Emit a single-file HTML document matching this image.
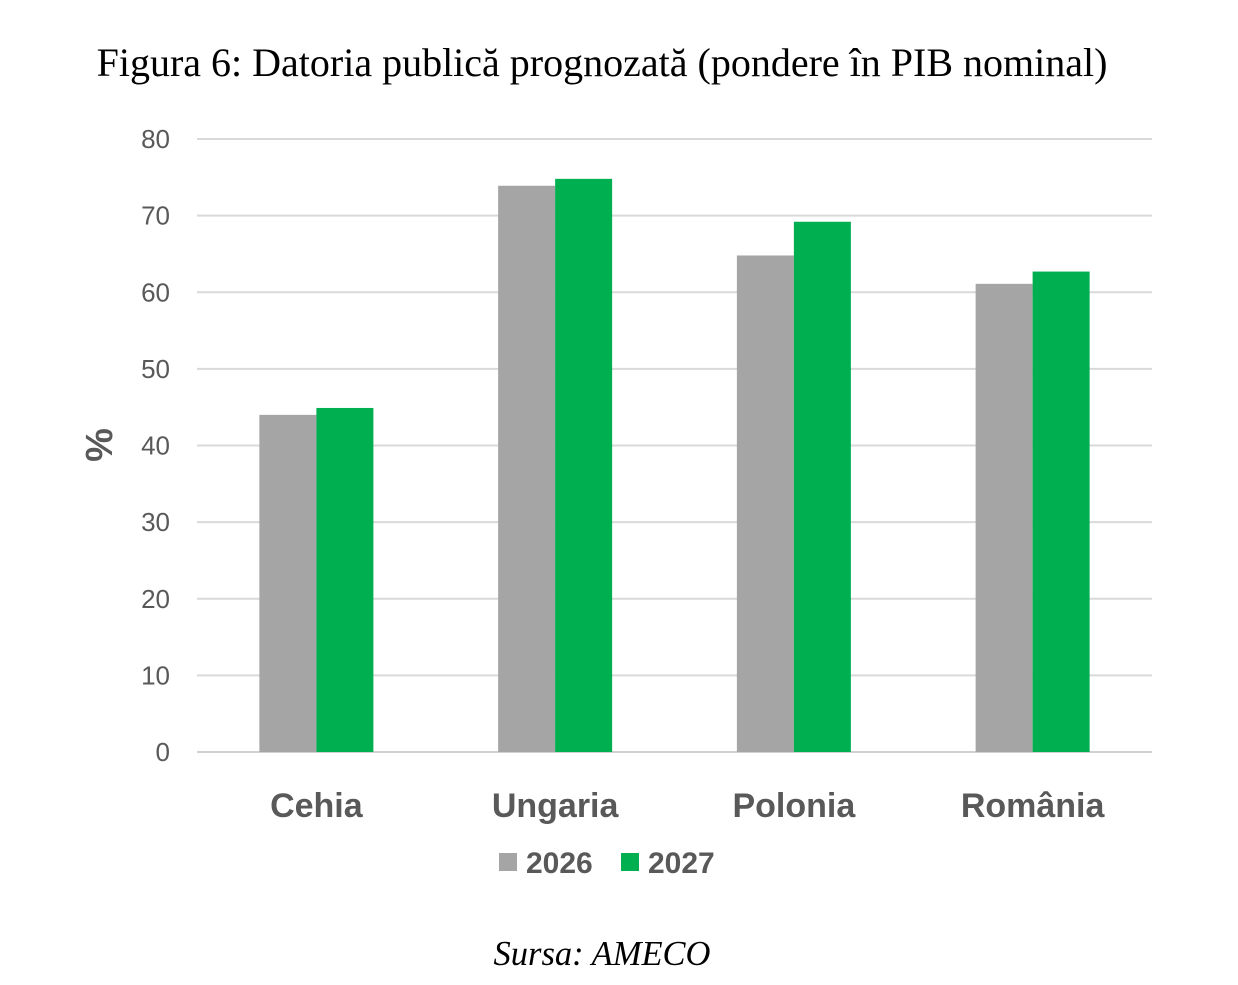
<!DOCTYPE html>
<html><head><meta charset="utf-8"><style>
body{margin:0;background:#fff;width:1238px;height:980px;overflow:hidden}
svg text{font-family:"Liberation Sans",sans-serif}
</style></head><body>
<svg id="chart" width="1238" height="980">
<text x="602" y="76" text-anchor="middle" style="font-family:'Liberation Serif',serif;font-size:40px" fill="#000">Figura 6: Datoria publică prognozată (pondere în PIB nominal)</text>
<text x="602" y="965" text-anchor="middle" style="font-family:'Liberation Serif',serif;font-size:34.5px;font-style:italic" fill="#000">Sursa: AMECO</text>
<text transform="translate(112,445) rotate(-90)" text-anchor="middle" style="font-size:38px;font-weight:bold" fill="#595959">%</text>
<g id="grid"></g><g id="bars"></g><g id="labels"></g>
<g>
<rect x="499" y="853" width="18" height="18" fill="#a5a5a5"/>
<text x="526" y="873" style="font-size:30px;font-weight:bold" fill="#595959">2026</text>
<rect x="621" y="853" width="18" height="18" fill="#00b050"/>
<text x="648" y="873" style="font-size:30px;font-weight:bold" fill="#595959">2027</text>
</g>
</svg>
<script>
const categories=["Cehia","Ungaria","Polonia","România"];
const values2026=[44.0,73.9,64.8,61.1];
const values2027=[44.9,74.8,69.2,62.7];
const yTicks=[0,10,20,30,40,50,60,70,80];
const NS="http://www.w3.org/2000/svg";
const L=197,R=1152,Y0=752,Y80=139;
const y=v=>Y0-(v/80)*(Y0-Y80);
const bw=(R-L)/categories.length;
const xc=i=>L+bw*(i+0.5);
function mk(t,a,p){const e=document.createElementNS(NS,t);for(const k in a)e.setAttribute(k,a[k]);p.appendChild(e);return e;}
const g=document.getElementById('grid'),b=document.getElementById('bars'),lb=document.getElementById('labels');
yTicks.forEach(t=>{
 const l=mk('line',{x1:L,x2:R,y1:y(t),y2:y(t),stroke:t===0?'#d0d0d0':'#d9d9d9','stroke-width':2},g);
 
 
 const tx=mk('text',{x:170,y:y(t)+9,'text-anchor':'end','font-size':26,fill:'#595959'},lb);
 tx.textContent=t;
 
 
});
const w=57;
categories.forEach((c,i)=>{
 const r1=mk('rect',{x:xc(i)-w,y:y(values2026[i]),width:w,height:Y0-y(values2026[i]),fill:'#a5a5a5'},b);
 
 
 const r2=mk('rect',{x:xc(i),y:y(values2027[i]),width:w,height:Y0-y(values2027[i]),fill:'#00b050'},b);
 
 
 const t=mk('text',{x:xc(i),y:817,'text-anchor':'middle','font-size':34,'font-weight':'bold',fill:'#595959'},lb);
 t.textContent=c;
 
 
});
</script>
</body></html>
